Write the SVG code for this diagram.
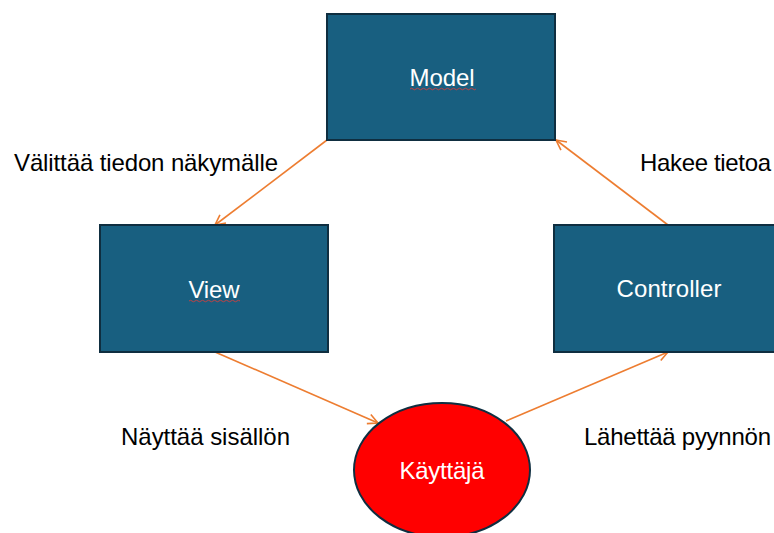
<svg xmlns="http://www.w3.org/2000/svg" width="774" height="533" viewBox="0 0 774 533">
<style>
.box{fill:#185f80;stroke:#0f2e40;stroke-width:2}
.ell{fill:#ff0000;stroke:#0f2e40;stroke-width:2}
.nt{font-family:"Liberation Sans",Arial,sans-serif;font-size:24px;fill:#ffffff;text-anchor:middle}
.lbl{font-family:"Liberation Sans",Arial,sans-serif;font-size:24px;fill:#000000}
.con{stroke:#ed7d31;stroke-width:1.6;fill:none;marker-end:url(#ah)}
.sq{stroke:#d04040;stroke-width:0.9;fill:none}
</style>
<defs>
<marker id="ah" viewBox="0 0 12 12" refX="11" refY="6" markerWidth="12" markerHeight="12" markerUnits="userSpaceOnUse" orient="auto">
<path d="M1,1 L11,6 L1,11" fill="none" stroke="#ed7d31" stroke-width="1.6"/>
</marker>
</defs>
<rect width="774" height="533" fill="#ffffff"/>
<g id="connectors">
<line class="con" x1="327" y1="140" x2="215" y2="225"/>
<line class="con" x1="668" y1="225" x2="556" y2="140"/>
<line class="con" x1="215" y1="352" x2="378" y2="423"/>
<line class="con" x1="506" y1="421" x2="668" y2="352"/>
</g>
<g id="model">
<rect class="box" x="327" y="14" width="228" height="126"/>
<text class="nt" x="442" y="86" textLength="65">Model</text>
<path class="sq" d="M410,89 q1.5,-1.5 3,0 t3,0 t3,0 t3,0 t3,0 t3,0 t3,0 t3,0 t3,0 t3,0 t3,0 t3,0 t3,0 t3,0 t3,0 t3,0 t3,0 t3,0 t3,0 t3,0 t3,0 t3,0"/>
</g>
<g id="view">
<rect class="box" x="100" y="225" width="228" height="127"/>
<text class="nt" x="214" y="298" textLength="51">View</text>
<path class="sq" d="M189,301 q1.5,-1.5 3,0 t3,0 t3,0 t3,0 t3,0 t3,0 t3,0 t3,0 t3,0 t3,0 t3,0 t3,0 t3,0 t3,0 t3,0 t3,0 t3,0"/>
</g>
<g id="controller">
<rect class="box" x="554" y="225" width="228" height="127"/>
<text class="nt" x="669" y="297" textLength="105">Controller</text>
</g>
<g id="kayttaja">
<ellipse class="ell" cx="442" cy="470" rx="88" ry="67"/>
<text class="nt" x="442" y="479" textLength="85">Käyttäjä</text>
</g>
<g id="labels">
<text class="lbl" x="14" y="171" textLength="264">Välittää tiedon näkymälle</text>
<text class="lbl" x="640" y="171" textLength="131">Hakee tietoa</text>
<text class="lbl" x="121" y="445" textLength="169">Näyttää sisällön</text>
<text class="lbl" x="584" y="445" textLength="187">Lähettää pyynnön</text>
</g>
</svg>
